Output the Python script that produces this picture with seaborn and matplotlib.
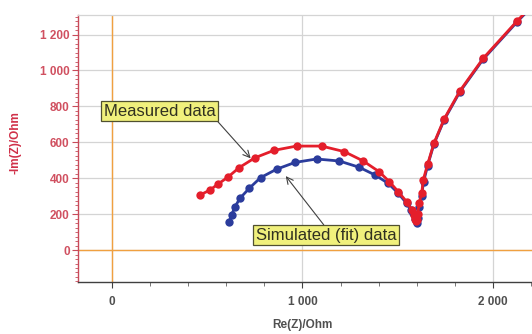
import matplotlib
matplotlib.use("Agg")
import matplotlib.pyplot as plt
import seaborn as sns
import pandas as pd
from matplotlib.ticker import MultipleLocator, FuncFormatter

# ---- data ----
meas_x = [462, 514, 558, 611, 668, 751, 850, 969, 1101, 1220, 1319, 1403, 1456, 1503,
          1547, 1573, 1585, 1591, 1595, 1600, 1605, 1613, 1626, 1634, 1657, 1690, 1744,
          1827, 1949, 2128, 2240]
meas_y = [306, 334, 368, 408, 459, 514, 555, 579, 579, 548, 496, 436, 381, 325,
          269, 223, 195, 175, 160, 170, 200, 264, 316, 390, 477, 594, 730,
          887, 1068, 1277, 1400]

sim_x = [616, 628, 646, 672, 721, 780, 864, 961, 1074, 1193, 1298, 1381, 1451, 1503,
         1547, 1570, 1582, 1592, 1600, 1606, 1612, 1625, 1636, 1657, 1690, 1744, 1827,
         1949, 2128, 2240]
sim_y = [158, 195, 241, 288, 344, 403, 450, 488, 507, 496, 461, 418, 371, 316,
         260, 225, 204, 175, 149, 180, 240, 300, 380, 470, 590, 725, 882,
         1063, 1272, 1395]

label_meas = "Measured data"
label_sim = "Simulated (fit) data"

meas = pd.DataFrame({"x": meas_x, "y": meas_y, "order": range(len(meas_x))})
sim = pd.DataFrame({"x": sim_x, "y": sim_y, "order": range(len(sim_x))})

sns.set_theme(style="white")
plt.rcParams["font.family"] = ["Liberation Sans", "DejaVu Sans"]

fig = plt.figure(figsize=(5.32, 3.34), dpi=100)
ax = fig.add_axes([78 / 532, 1 - 282 / 334, 1 - 78 / 532, (282 - 15) / 334])

RED = "#e41e2b"
BLUE = "#2b3c9c"

sns.lineplot(data=sim, x="x", y="y", sort=False, estimator=None, ax=ax,
             color=BLUE, lw=2.0, marker="o", markersize=6, markeredgewidth=0,
             zorder=3)
sns.lineplot(data=meas, x="x", y="y", sort=False, estimator=None, ax=ax,
             color=RED, lw=2.0, marker="o", markersize=6, markeredgewidth=0,
             zorder=4)

ax.set_xlim(-178, 2205)
ax.set_ylim(-178, 1309)

# grid
ax.xaxis.set_major_locator(MultipleLocator(1000))
ax.xaxis.set_minor_locator(MultipleLocator(200))
ax.yaxis.set_major_locator(MultipleLocator(200))
ax.yaxis.set_minor_locator(MultipleLocator(25))
ax.grid(True, which="major", color="#d4d4d4", lw=0.9, zorder=0)
ax.axvline(0, color="#f0a040", lw=1.0, zorder=1)
ax.axhline(0, color="#f0a040", lw=1.0, zorder=1)

fmt = FuncFormatter(lambda v, p: f"{v:,.0f}".replace(",", " "))
ax.xaxis.set_major_formatter(fmt)
ax.yaxis.set_major_formatter(fmt)

ax.spines["right"].set_visible(False)
ax.spines["top"].set_color("#d4d4d4")
ax.spines["top"].set_linewidth(0.9)
ax.spines["left"].set_color("#c84a5a")
ax.spines["left"].set_linewidth(1.0)
ax.spines["bottom"].set_color("#404040")
ax.spines["bottom"].set_linewidth(1.0)

ax.tick_params(axis="y", which="major", direction="out", length=4, width=0.8,
               color="#c84a5a", labelcolor="#d05060", labelsize=8.5, left=True, pad=2)
ax.tick_params(axis="y", which="minor", direction="out", length=2, width=0.6,
               color="#c84a5a", left=True)
ax.tick_params(axis="x", which="major", direction="out", length=4, width=0.8,
               color="#404040", labelcolor="#505050", labelsize=8.5, bottom=True, pad=6)
ax.tick_params(axis="x", which="minor", direction="out", length=3, width=0.6,
               color="#606060", bottom=True)
for t in ax.get_yticklabels() + ax.get_xticklabels():
    t.set_fontweight("bold")

ax.set_xlabel("Re(Z)/Ohm", fontsize=8.5, fontweight="bold", color="#505050")
ax.set_ylabel("-Im(Z)/Ohm", fontsize=8.5, fontweight="bold", color="#d03048")
ax.xaxis.label.set_va("center")
ax.yaxis.label.set_va("center")
ax.xaxis.set_label_coords((302 - 78) / 454, (282 - 325) / 267)
ax.yaxis.set_label_coords((15 - 78) / 454, (282 - 143) / 267)

box = dict(boxstyle="square,pad=0.15", fc="#f0f07c", ec="#505030", lw=0.9)
ax.annotate(label_meas, xy=(733, 505), xytext=(250, 772), ha="center", va="center",
            fontsize=12, color="#303020", bbox=box, zorder=6,
            arrowprops=dict(arrowstyle="->", color="#404040", lw=0.8,
                            relpos=(1.0, 0.0), shrinkA=0, shrinkB=1))
ax.annotate(label_sim, xy=(908, 418), xytext=(1124, 82), ha="center", va="center",
            fontsize=12, color="#303020", bbox=box, zorder=6,
            arrowprops=dict(arrowstyle="->", color="#404040", lw=0.8,
                            relpos=(0.5, 1.0), shrinkA=0, shrinkB=1))

fig.savefig("out.png", dpi=100)
